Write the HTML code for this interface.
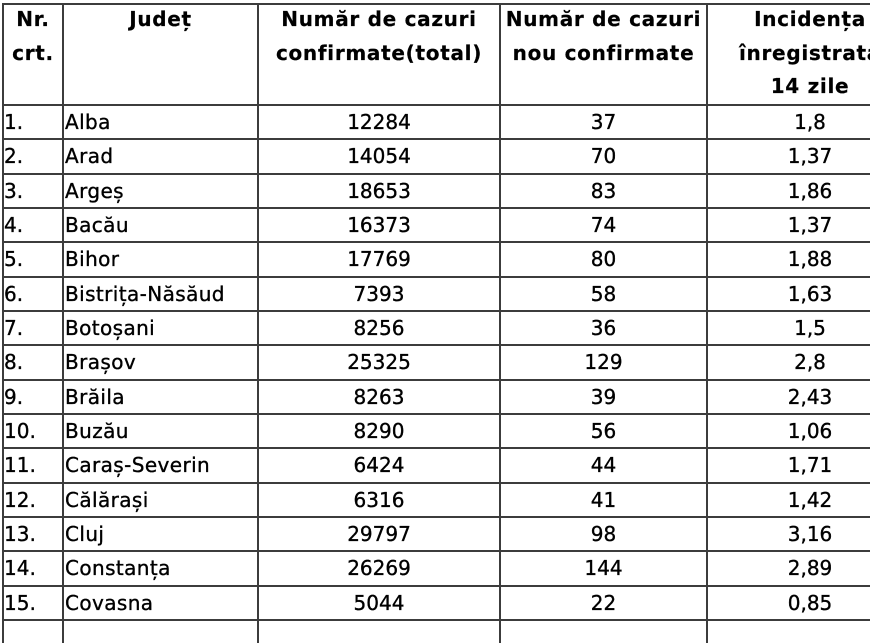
<!DOCTYPE html>
<html><head><meta charset="utf-8">
<style>
html,body{margin:0;padding:0;background:#fff;}
body{width:870px;height:623px;overflow:hidden;position:relative;font-family:"DejaVu Sans","Liberation Sans",sans-serif;color:#000;}
.h{position:absolute;background:#3c3c3c;height:2px;left:2px;width:920px;}
.v{position:absolute;background:#3c3c3c;width:2px;top:3px;height:640px;}
.hd{position:absolute;top:3px;font-weight:bold;font-size:20px;line-height:33.5px;text-align:center;letter-spacing:0.7px;white-space:nowrap;-webkit-text-stroke:0.2px #000;}
.r{position:absolute;left:0;width:913px;height:34.3px;font-size:20px;line-height:34px;white-space:nowrap;-webkit-text-stroke:0.35px #000;}
.r span{position:absolute;top:0;}
.c1{left:4px;}
.c2{left:65px;letter-spacing:0.4px;}
.c3{left:258px;width:242px;text-align:center;}
.c4{left:500px;width:207px;text-align:center;}
.c5{left:707px;width:206px;text-align:center;}
</style></head><body>
<div class="hd" style="left:3px;width:60px;">Nr.<br>crt.</div>
<div class="hd" style="left:63px;width:195px;">Județ</div>
<div class="hd" style="left:258px;width:242px;">Număr de cazuri<br>confirmate(total)</div>
<div class="hd" style="left:500px;width:207px;">Număr de cazuri<br>nou confirmate</div>
<div class="hd" style="left:707px;width:206px;">Incidența<br>înregistrată<br>14 zile</div>

<div class="r" style="top:105px"><span class="c1">1.</span><span class="c2">Alba</span><span class="c3">12284</span><span class="c4">37</span><span class="c5">1,8</span></div>
<div class="r" style="top:139.33px"><span class="c1">2.</span><span class="c2">Arad</span><span class="c3">14054</span><span class="c4">70</span><span class="c5">1,37</span></div>
<div class="r" style="top:173.67px"><span class="c1">3.</span><span class="c2">Argeș</span><span class="c3">18653</span><span class="c4">83</span><span class="c5">1,86</span></div>
<div class="r" style="top:208px"><span class="c1">4.</span><span class="c2">Bacău</span><span class="c3">16373</span><span class="c4">74</span><span class="c5">1,37</span></div>
<div class="r" style="top:242.33px"><span class="c1">5.</span><span class="c2">Bihor</span><span class="c3">17769</span><span class="c4">80</span><span class="c5">1,88</span></div>
<div class="r" style="top:276.67px"><span class="c1">6.</span><span class="c2">Bistrița-Năsăud</span><span class="c3">7393</span><span class="c4">58</span><span class="c5">1,63</span></div>
<div class="r" style="top:311px"><span class="c1">7.</span><span class="c2">Botoșani</span><span class="c3">8256</span><span class="c4">36</span><span class="c5">1,5</span></div>
<div class="r" style="top:345.33px"><span class="c1">8.</span><span class="c2">Brașov</span><span class="c3">25325</span><span class="c4">129</span><span class="c5">2,8</span></div>
<div class="r" style="top:379.67px"><span class="c1">9.</span><span class="c2">Brăila</span><span class="c3">8263</span><span class="c4">39</span><span class="c5">2,43</span></div>
<div class="r" style="top:414px"><span class="c1">10.</span><span class="c2">Buzău</span><span class="c3">8290</span><span class="c4">56</span><span class="c5">1,06</span></div>
<div class="r" style="top:448.33px"><span class="c1">11.</span><span class="c2">Caraș-Severin</span><span class="c3">6424</span><span class="c4">44</span><span class="c5">1,71</span></div>
<div class="r" style="top:482.67px"><span class="c1">12.</span><span class="c2">Călărași</span><span class="c3">6316</span><span class="c4">41</span><span class="c5">1,42</span></div>
<div class="r" style="top:517px"><span class="c1">13.</span><span class="c2">Cluj</span><span class="c3">29797</span><span class="c4">98</span><span class="c5">3,16</span></div>
<div class="r" style="top:551.33px"><span class="c1">14.</span><span class="c2">Constanța</span><span class="c3">26269</span><span class="c4">144</span><span class="c5">2,89</span></div>
<div class="r" style="top:585.67px"><span class="c1">15.</span><span class="c2">Covasna</span><span class="c3">5044</span><span class="c4">22</span><span class="c5">0,85</span></div>

<div class="h" style="top:3px"></div>
<div class="h" style="top:104px"></div>
<div class="h" style="top:138.33px"></div>
<div class="h" style="top:172.67px"></div>
<div class="h" style="top:207px"></div>
<div class="h" style="top:241.33px"></div>
<div class="h" style="top:275.67px"></div>
<div class="h" style="top:310px"></div>
<div class="h" style="top:344.33px"></div>
<div class="h" style="top:378.67px"></div>
<div class="h" style="top:413px"></div>
<div class="h" style="top:447.33px"></div>
<div class="h" style="top:481.67px"></div>
<div class="h" style="top:516px"></div>
<div class="h" style="top:550.33px"></div>
<div class="h" style="top:584.67px"></div>
<div class="h" style="top:619px"></div>

<div class="v" style="left:2px"></div>
<div class="v" style="left:62px"></div>
<div class="v" style="left:257px"></div>
<div class="v" style="left:499px"></div>
<div class="v" style="left:706px"></div>
</body></html>
